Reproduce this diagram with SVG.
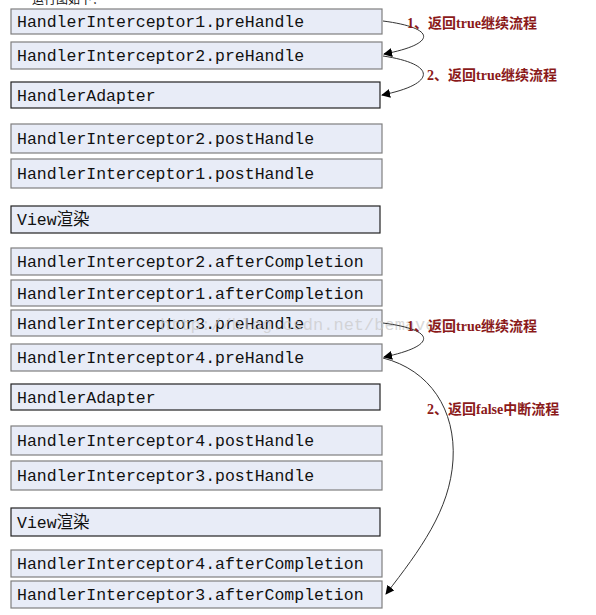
<svg xmlns="http://www.w3.org/2000/svg" width="596" height="615" viewBox="0 0 596 615">
<defs>
<marker id="ah" viewBox="0 0 10 10" refX="9" refY="5" markerWidth="9" markerHeight="9" markerUnits="userSpaceOnUse" orient="auto">
<path d="M0,0 L10,5 L0,10 z" fill="#000"/>
</marker>
<style>
.b{fill:#E8ECF7;stroke:#7F7F7F;stroke-width:1.2}
.d{fill:#E8ECF7;stroke:#222;stroke-width:1.2}
.t{font-family:"Liberation Mono","Noto Sans CJK SC",monospace;font-size:16.5px;fill:#111}
.l{font-family:"Liberation Serif","Noto Sans CJK SC",serif;font-size:14px;font-weight:bold;fill:#8B1A1A}
.c{fill:none;stroke:#333;stroke-width:1;marker-end:url(#ah)}
</style>
</defs>
<rect width="596" height="615" fill="#fff"/>
<text x="32" y="4" font-family="Noto Sans CJK SC,sans-serif" font-size="12" fill="#111">运行图如下：</text>
<g id="n1"><rect class="b" x="11" y="9" width="371" height="25"/><text class="t" x="17" y="27">HandlerInterceptor1.preHandle</text></g>
<g id="n2"><rect class="b" x="11" y="42" width="371" height="27"/><text class="t" x="17" y="61">HandlerInterceptor2.preHandle</text></g>
<g id="n3"><rect class="d" x="11" y="82" width="369" height="26"/><text class="t" x="17" y="101">HandlerAdapter</text></g>
<g id="n4"><rect class="b" x="11" y="124" width="371" height="29"/><text class="t" x="17" y="144">HandlerInterceptor2.postHandle</text></g>
<g id="n5"><rect class="b" x="11" y="159" width="371" height="29"/><text class="t" x="17" y="179">HandlerInterceptor1.postHandle</text></g>
<g id="n6"><rect class="d" x="11" y="206" width="369" height="27"/><text class="t" x="17" y="225">View渲染</text></g>
<g id="n7"><rect class="b" x="11" y="248" width="371" height="27"/><text class="t" x="17" y="267">HandlerInterceptor2.afterCompletion</text></g>
<g id="n8"><rect class="b" x="11" y="280" width="371" height="26"/><text class="t" x="17" y="299">HandlerInterceptor1.afterCompletion</text></g>
<g id="n9"><rect class="b" x="11" y="310" width="371" height="26"/><text class="t" x="17" y="329">HandlerInterceptor3.preHandle</text></g>
<g id="n10"><rect class="b" x="11" y="344" width="371" height="27"/><text class="t" x="17" y="363">HandlerInterceptor4.preHandle</text></g>
<g id="n11"><rect class="d" x="11" y="384" width="369" height="26"/><text class="t" x="17" y="403">HandlerAdapter</text></g>
<g id="n12"><rect class="b" x="11" y="426" width="371" height="29"/><text class="t" x="17" y="446">HandlerInterceptor4.postHandle</text></g>
<g id="n13"><rect class="b" x="11" y="461" width="371" height="29"/><text class="t" x="17" y="481">HandlerInterceptor3.postHandle</text></g>
<g id="n14"><rect class="d" x="11" y="508" width="369" height="28"/><text class="t" x="17" y="528">View渲染</text></g>
<g id="n15"><rect class="b" x="11" y="550" width="371" height="27"/><text class="t" x="17" y="569">HandlerInterceptor4.afterCompletion</text></g>
<g id="n16"><rect class="b" x="11" y="581" width="371" height="27"/><text class="t" x="17" y="600">HandlerInterceptor3.afterCompletion</text></g>
<text x="160" y="330" font-family="Liberation Mono,monospace" font-size="17" fill="#c8c8c8" fill-opacity="0.7">http://blog.csdn.net/bemavery</text>
<g id="connectors">
<path class="c" d="M383,21 C437,28 437,44 384,54"/>
<path class="c" d="M383,56 C437,64 437,84 382,95"/>
<path class="c" d="M383,323 C437,330 437,346 384,357"/>
<path class="c" d="M383,358 C430,370 456,410 453,460 C450,510 420,550 386,594"/>
</g>
<g id="labels">
<text class="l" x="407" y="28">1、返回true继续流程</text>
<text class="l" x="427" y="80">2、返回true继续流程</text>
<text class="l" x="407" y="331">1、返回true继续流程</text>
<text class="l" x="427" y="414">2、返回false中断流程</text>
</g>
</svg>
